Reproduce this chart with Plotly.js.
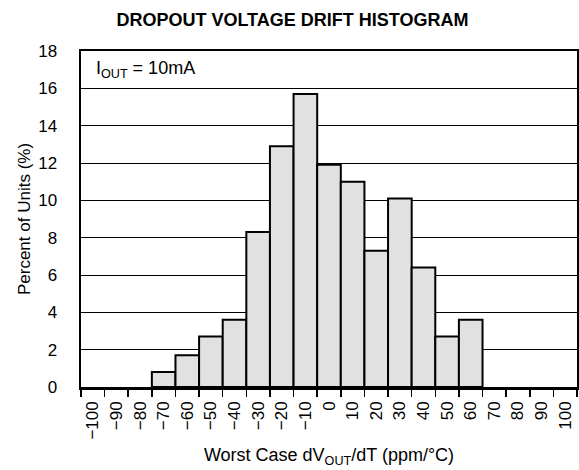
<!DOCTYPE html>
<html>
<head>
<meta charset="utf-8">
<script src="https://cdn.plot.ly/plotly-3.0.1.min.js"></script>
<style>html,body{margin:0;padding:0;background:#fff;}#chart{width:579px;height:470px;}</style>
</head>
<body>
<div id="chart"></div>
<script>
// Bin labels along the x axis (ppm/°C)
const categories = ["\u2212100","\u221290","\u221280","\u221270","\u221260","\u221250","\u221240","\u221230","\u221220","\u221210","0","10","20","30","40","50","60","70","80","90","100"];
// Bins that contain units
const barBins = ["\u221270","\u221260","\u221250","\u221240","\u221230","\u221220","\u221210","0","10","20","30","40","50","60"];
// Percent of units per bin
const percentUnits = [0.8, 1.7, 2.7, 3.6, 8.3, 12.9, 15.7, 11.9, 11.0, 7.3, 10.1, 6.4, 2.7, 3.6];
const yTicks = [0, 2, 4, 6, 8, 10, 12, 14, 16, 18];

const FONT = "Liberation Sans, Arial, Helvetica, sans-serif";

const traces = [
  {
    type: "scatter", mode: "none", x: categories, y: categories.map(() => null),
    hoverinfo: "skip", showlegend: false
  },
  {
    type: "bar", x: barBins, y: percentUnits,
    marker: { color: "#e0e1e0", line: { color: "#000", width: 2 } },
    showlegend: false
  }
];

const layout = {
  width: 579, height: 470,
  margin: { l: 81, r: 2, t: 51, b: 83 },
  paper_bgcolor: "#fff", plot_bgcolor: "#fff",
  font: { family: FONT, color: "#000", size: 17 },
  bargap: 0,
  title: {
    text: "<b>DROPOUT VOLTAGE DRIFT HISTOGRAM</b>",
    font: { family: FONT, size: 18, color: "#000" },
    xref: "container", x: 0.505, xanchor: "center",
    yref: "container", y: 0.958, yanchor: "middle"
  },
  xaxis: {
    type: "category", categoryorder: "array", categoryarray: categories,
    range: [-0.5, categories.length - 0.5],
    tickson: "boundaries", ticks: "outside", ticklen: 7, tickwidth: 1.5, tickcolor: "#000",
    ticklabelstandoff: 5,
    tickangle: -90, tickfont: { family: FONT, size: 17 },
    showgrid: false, showline: true, linecolor: "#000", linewidth: 2.5, mirror: true,
    zeroline: false,
    title: { text: "Worst Case dV<sub>OUT</sub>/dT (ppm/°C)", font: { family: FONT, size: 18 }, standoff: 10 }
  },
  yaxis: {
    range: [0, 18], tickvals: yTicks, ticktext: yTicks.map(String),
    ticks: "", ticklabelstandoff: 18, tickfont: { family: FONT, size: 17 },
    showgrid: true, gridcolor: "#000", gridwidth: 1,
    showline: true, linecolor: "#000", linewidth: 2.5, mirror: true,
    zeroline: false,
    title: { text: "Percent of Units (%)", font: { family: FONT, size: 17 }, standoff: 3 }
  },
  annotations: [
    {
      text: "I<sub>OUT</sub> = 10mA", xref: "paper", yref: "y", x: 0.026, y: 17.0,
      xanchor: "left", yanchor: "middle", showarrow: false,
      font: { family: FONT, size: 18, color: "#000" }
    }
  ]
};

Plotly.newPlot("chart", traces, layout, { displayModeBar: false, staticPlot: true });
</script>
</body>
</html>
